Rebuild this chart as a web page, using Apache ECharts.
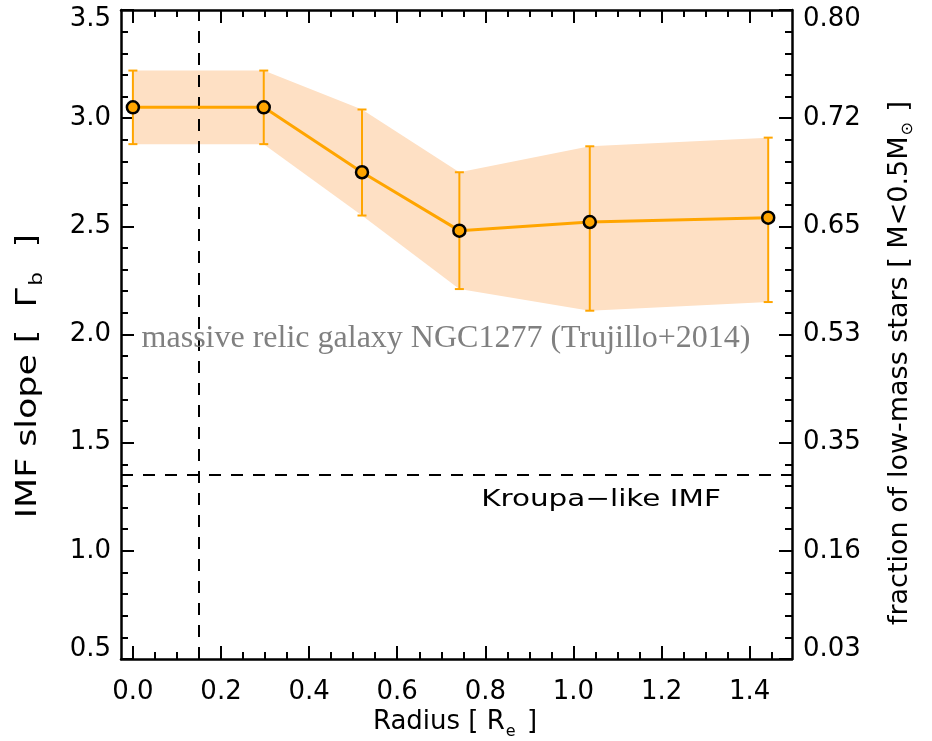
<!DOCTYPE html>
<html>
<head>
<meta charset="utf-8">
<script src="https://cdn.jsdelivr.net/npm/echarts@6/dist/echarts.min.js"></script>
<style>html,body{margin:0;padding:0;background:#fff}#c{width:932px;height:741px}</style>
</head>
<body>
<div id="c"></div>
<script>
// ---- data ----
const radius = [0.0, 0.297, 0.52, 0.741, 1.037, 1.442];
const slope  = [3.05, 3.05, 2.75, 2.48, 2.52, 2.54];
const upper  = [3.22, 3.22, 3.04, 2.75, 2.87, 2.91];
const lower  = [2.88, 2.88, 2.55, 2.21, 2.11, 2.15];
const kroupaSlope = 1.35;
const relicRadius = 0.15;

// ---- axes / ticks ----
const xRange = [-0.027, 1.496];
const yRange = [0.5, 3.5];
const xMajorTicks = [0.0, 0.2, 0.4, 0.6, 0.8, 1.0, 1.2, 1.4];
const xMinorTicks = [0.05,0.1,0.15,0.25,0.3,0.35,0.45,0.5,0.55,0.65,0.7,0.75,0.85,0.9,0.95,1.05,1.1,1.15,1.25,1.3,1.35,1.45];
const yLeftLabels  = ['0.5','1.0','1.5','2.0','2.5','3.0','3.5'];
const yRightLabels = ['0.03','0.16','0.35','0.53','0.65','0.72','0.80'];

const ORANGE = '#FFA500';
const BAND = '#FEE0C4';
const FONT = 'DejaVu Sans';
const LFS = 26;

const chart = echarts.init(document.getElementById('c'), null, {renderer: 'canvas'});

const lblStyle = {fontFamily: FONT, fontSize: LFS, color: '#000'};
const rich = {
  n: {fontFamily: FONT, fontSize: LFS, color: '#000'},
  t: {fontFamily: FONT, fontSize: LFS, color: '#000', padding: [18, 0, 0, 0]},
  b: {fontFamily: FONT, fontSize: LFS, color: '#000', padding: [0, 0, 20, 0]}
};
function yFmt(labels) {
  return function (v) {
    const i = Math.round((v - yRange[0]) / 0.5);
    const s = labels[i];
    if (s === undefined) return '';
    if (i === labels.length - 1) return '{t|' + s + '}';
    if (i === 0) return '{b|' + s + '}';
    return '{n|' + s + '}';
  };
}

const black = {color: '#000', width: 2};
function xAxisDef(pos, ticks, len, showLine, showLabel) {
  return {
    type: 'value', position: pos, min: xRange[0], max: xRange[1], gridIndex: 0,
    axisLine: {show: showLine, onZero: false, lineStyle: {color: '#000', width: 2.5}},
    axisTick: {show: true, inside: true, length: len, lineStyle: black, customValues: ticks},
    axisLabel: showLabel ? Object.assign({show: true, margin: 20, customValues: xMajorTicks,
      formatter: v => v.toFixed(1)}, lblStyle) : {show: false},
    splitLine: {show: false}
  };
}
function yAxisDef(pos, labels, showLabel) {
  return {
    type: 'value', position: pos, min: yRange[0], max: yRange[1], interval: 0.5,
    axisLine: {show: true, onZero: false, lineStyle: {color: '#000', width: 2.5}},
    axisTick: {show: true, inside: true, length: 13, lineStyle: black},
    minorTick: {show: true, splitNumber: 5, length: 7, lineStyle: black},
    axisLabel: showLabel ? {show: true, margin: pos === 'left' ? 10 : 11, formatter: yFmt(labels), rich: rich,
      fontFamily: FONT, fontSize: LFS, color: '#000'} : {show: false},
    splitLine: {show: false}, minorSplitLine: {show: false}
  };
}

const option = {
  animation: false,
  backgroundColor: '#fff',
  grid: {left: 121, right: 140, top: 10, bottom: 82, outerBoundsMode: 'none', containLabel: false},
  xAxis: [
    xAxisDef('bottom', xMajorTicks, 13, true, true),
    xAxisDef('bottom', xMinorTicks, 7, false, false),
    xAxisDef('top', xMajorTicks, 13, true, false),
    xAxisDef('top', xMinorTicks, 7, false, false)
  ],
  yAxis: [
    yAxisDef('left', yLeftLabels, true),
    yAxisDef('right', yRightLabels, true)
  ],
  series: [
    { // uncertainty band
      type: 'custom', xAxisIndex: 0, yAxisIndex: 0, z: 1, silent: true,
      data: radius.map((x, i) => [x, lower[i], upper[i]]),
      renderItem: function (params, api) {
        if (params.dataIndex !== 0) return null;
        const pts = [];
        for (let i = 0; i < radius.length; i++) pts.push(api.coord([radius[i], upper[i]]));
        for (let i = radius.length - 1; i >= 0; i--) pts.push(api.coord([radius[i], lower[i]]));
        return {type: 'polygon', shape: {points: pts}, style: {fill: BAND, stroke: null}};
      }
    },
    { // error bars
      type: 'custom', xAxisIndex: 0, yAxisIndex: 0, z: 3, silent: true,
      data: radius.map((x, i) => [x, lower[i], upper[i]]),
      renderItem: function (params, api) {
        const lo = api.coord([api.value(0), api.value(1)]);
        const hi = api.coord([api.value(0), api.value(2)]);
        const w = 4.5;
        const st = {stroke: ORANGE, lineWidth: 2};
        return {type: 'group', children: [
          {type: 'line', shape: {x1: lo[0], y1: lo[1], x2: hi[0], y2: hi[1]}, style: st},
          {type: 'line', shape: {x1: lo[0] - w, y1: lo[1], x2: lo[0] + w, y2: lo[1]}, style: st},
          {type: 'line', shape: {x1: hi[0] - w, y1: hi[1], x2: hi[0] + w, y2: hi[1]}, style: st}
        ]};
      }
    },
    { // dashed reference lines
      type: 'line', xAxisIndex: 0, yAxisIndex: 0, data: [], z: 4, silent: true,
      markLine: {
        silent: true, symbol: ['none', 'none'], label: {show: false},
        lineStyle: {color: '#000', width: 2, type: [12, 10]},
        data: [{yAxis: kroupaSlope}, {xAxis: relicRadius}]
      }
    },
    { // IMF slope profile
      type: 'line', xAxisIndex: 0, yAxisIndex: 0, z: 5,
      data: radius.map((x, i) => [x, slope[i]]),
      symbol: 'circle', symbolSize: 12,
      lineStyle: {color: ORANGE, width: 3},
      itemStyle: {color: ORANGE, borderColor: '#000', borderWidth: 2.5}
    }
  ],
  graphic: [
    {type: 'text', x: 446, y: 339, z: 20, silent: true,
     style: {text: 'massive relic galaxy NGC1277 (Trujillo+2014)', fontFamily: 'Liberation Serif', fontSize: 32,
             fill: '#808080', align: 'center', verticalAlign: 'middle', textAlign: 'center', textVerticalAlign: 'middle'}},
    {type: 'text', x: 601, y: 500, z: 20, silent: true, scaleX: 1.28,
     style: {text: 'Kroupa\u2212like IMF', fontFamily: FONT, fontSize: 23, fill: '#000',
             align: 'center', verticalAlign: 'middle', textAlign: 'center', textVerticalAlign: 'middle'}},
    {type: 'text', x: 455, y: 724, z: 20, silent: true,
     style: {text: '{m|Radius [ R}{s|e}{m| ]}', align: 'center', verticalAlign: 'middle',
             rich: {m: {fontFamily: FONT, fontSize: 26, fill: '#000', color: '#000', verticalAlign: 'top', lineHeight: 30},
                    s: {fontFamily: FONT, fontSize: 16, fill: '#000', color: '#000', verticalAlign: 'top', lineHeight: 16, padding: [15, 3, 0, 1]}}}},
    {type: 'text', x: 30, y: 376, z: 20, silent: true, rotation: Math.PI / 2, scaleX: 1.2,
     style: {text: '{m|IMF slope [  \u0393}{s|b}{m|  ]}', align: 'center', verticalAlign: 'middle',
             rich: {m: {fontFamily: FONT, fontSize: 29, fill: '#000', color: '#000', verticalAlign: 'top', lineHeight: 32},
                    s: {fontFamily: FONT, fontSize: 18, fill: '#000', color: '#000', verticalAlign: 'top', lineHeight: 18, padding: [14, 2, 0, 2]}}}},
    {type: 'text', x: 901, y: 363, z: 20, silent: true, rotation: Math.PI / 2,
     style: {text: '{m|fraction of low-mass stars [ M<0.5M}{s|\u2299}{m| ]}', align: 'center', verticalAlign: 'middle',
             rich: {m: {fontFamily: FONT, fontSize: 27, fill: '#000', color: '#000', verticalAlign: 'top', lineHeight: 30},
                    s: {fontFamily: FONT, fontSize: 16, fill: '#000', color: '#000', verticalAlign: 'top', lineHeight: 16, padding: [14, 2, 0, 1]}}}}
  ]
};
chart.setOption(option);
</script>
</body>
</html>
